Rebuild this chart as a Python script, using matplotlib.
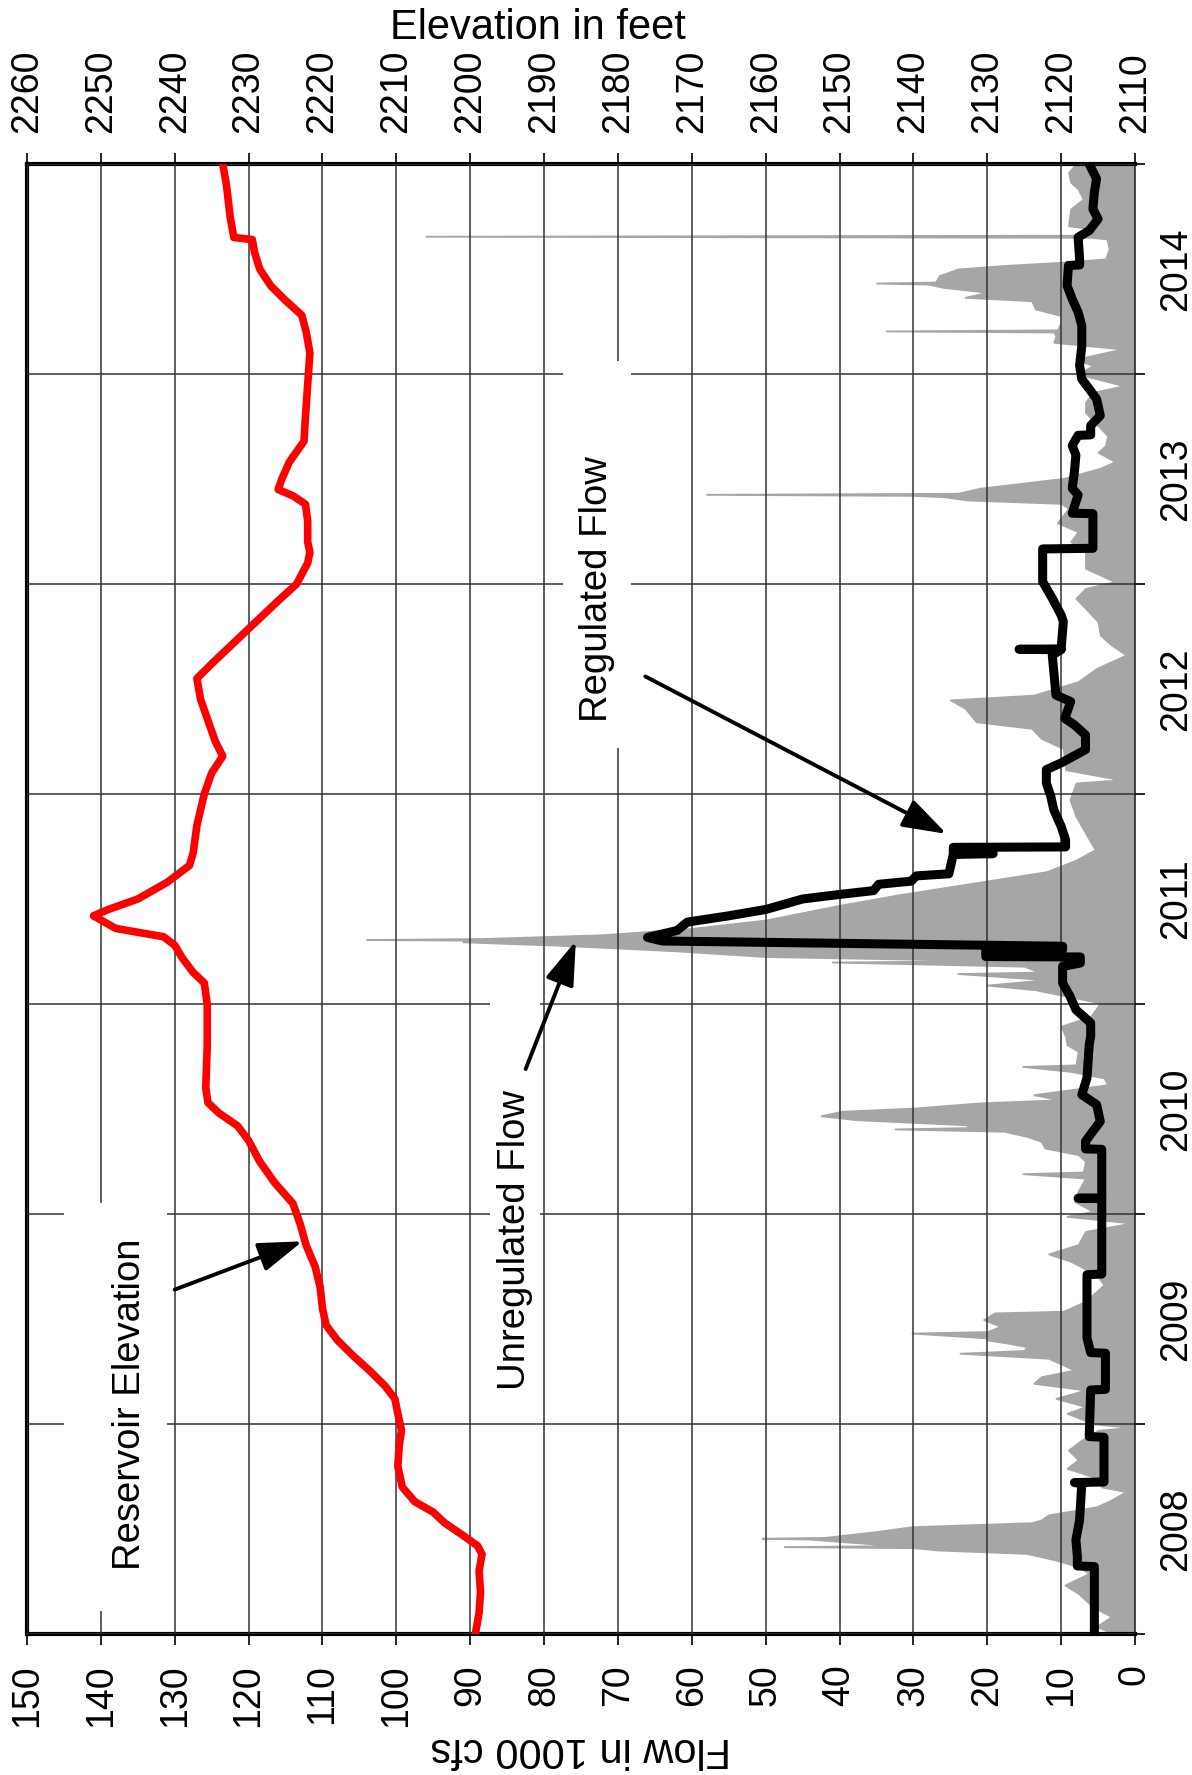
import matplotlib
matplotlib.use('Agg')
import matplotlib.pyplot as plt
from matplotlib.patches import Rectangle

plt.rcParams['font.family'] = ['Liberation Sans', 'DejaVu Sans']

# ---------------- data ----------------
unreg_t = [2008.000, 2008.035, 2008.083, 2008.130, 2008.194, 2008.233, 2008.289, 2008.321, 2008.352, 2008.384,
           2008.400, 2008.411, 2008.416, 2008.421, 2008.440, 2008.452, 2008.456, 2008.460, 2008.487, 2008.511,
           2008.530, 2008.543, 2008.567, 2008.606, 2008.638, 2008.678, 2008.700, 2008.749, 2008.789, 2008.829,
           2008.876, 2008.924, 2008.970, 2008.984, 2009.000, 2009.051, 2009.083, 2009.122, 2009.162, 2009.194,
           2009.225, 2009.257, 2009.289, 2009.313, 2009.337, 2009.350, 2009.368, 2009.384, 2009.400, 2009.410,
           2009.433, 2009.440, 2009.465, 2009.497, 2009.529, 2009.537, 2009.584, 2009.663, 2009.711, 2009.775,
           2009.810, 2009.854, 2009.917, 2009.957, 2009.989, 2010.013, 2010.060, 2010.108, 2010.171, 2010.192,
           2010.200, 2010.251, 2010.283, 2010.314, 2010.346, 2010.370, 2010.394, 2010.405, 2010.412, 2010.425,
           2010.449, 2010.468, 2010.489, 2010.505, 2010.529, 2010.544, 2010.568, 2010.616, 2010.648, 2010.679,
           2010.703, 2010.710, 2010.775, 2010.806, 2010.846, 2010.894, 2010.941, 2011.005, 2011.068, 2011.090,
           2011.116, 2011.145, 2011.152, 2011.180, 2011.200, 2011.206, 2011.226, 2011.253, 2011.280, 2011.296,
           2011.302, 2011.307, 2011.312, 2011.330, 2011.360, 2011.400, 2011.470, 2011.520, 2011.575, 2011.630,
           2011.685, 2011.735, 2011.814, 2011.894, 2011.973,
           2012.052, 2012.068, 2012.116, 2012.217, 2012.265, 2012.313, 2012.344, 2012.408, 2012.448, 2012.471,
           2012.503, 2012.535, 2012.598, 2012.662, 2012.710, 2012.757, 2012.821, 2012.884, 2012.932, 2012.979,
           2013.011, 2013.075, 2013.154, 2013.202, 2013.249, 2013.292, 2013.360, 2013.384, 2013.400, 2013.416,
           2013.422, 2013.427, 2013.432, 2013.456, 2013.503, 2013.551, 2013.583, 2013.627, 2013.659, 2013.706,
           2013.754, 2013.817, 2013.865, 2013.913, 2013.944, 2014.000, 2014.040, 2014.071, 2014.119, 2014.151,
           2014.183, 2014.200, 2014.205, 2014.210, 2014.246, 2014.278, 2014.310, 2014.349, 2014.365, 2014.389,
           2014.413, 2014.428, 2014.433, 2014.438, 2014.468, 2014.500, 2014.516, 2014.532, 2014.548, 2014.595,
           2014.643, 2014.651, 2014.656, 2014.661, 2014.690, 2014.706, 2014.786, 2014.833, 2014.881, 2014.913,
           2014.960, 2015.000]
unreg_q = [2.7, 5.2, 3.2, 5.7, 7.7, 9.5, 6.2, 7.7, 10.7, 14.7,
           26.7, 30.0, 47.5, 32.0, 39.7, 44.0, 50.5, 42.0, 35.2, 30.2,
           14.0, 12.7, 11.7, 5.2, 3.2, 1.2, 4.5, 5.7, 9.2, 7.7,
           9.0, 7.2, 5.0, 0.5, 5.5, 9.2, 6.7, 10.7, 6.7, 13.7,
           12.7, 8.2, 10.2, 11.7, 23.7, 15.0, 14.7, 17.0, 20.0, 20.0,
           30.2, 20.0, 18.2, 20.5, 19.0, 9.7, 6.7, 4.2, 5.2, 8.7,
           11.7, 7.7, 6.7, 0.5, 9.2, 5.7, 8.2, 7.7, 6.7, 15.2,
           7.0, 6.7, 7.7, 12.2, 12.7, 14.7, 17.7, 32.5, 22.0, 23.0,
           37.7, 42.5, 39.7, 29.7, 21.0, 10.2, 13.7, 3.7, 4.2, 8.7,
           15.2, 8.0, 7.7, 9.2, 9.4, 10.0, 6.0, 4.7, 13.5, 20.0,
           12.0, 24.0, 13.0, 15.0, 41.0, 18.0, 50.0, 62.0, 78.0, 91.0,
           80.0, 104.0, 88.0, 72.0, 60.0, 50.0, 40.0, 32.0, 22.0, 12.0,
           8.0, 5.4, 6.7, 8.0, 8.8,
           8.0, 2.0, 9.4, 9.7, 12.7, 14.0, 21.5, 23.0, 25.0, 13.7,
           10.7, 7.7, 5.2, 1.2, 3.2, 4.7, 5.0, 6.7, 8.0, 6.7,
           2.7, 6.7, 6.7, 8.7, 7.7, 10.5, 9.0, 10.0, 22.7, 26.0,
           30.0, 58.0, 24.0, 21.0, 9.7, 4.7, 2.7, 5.0, 4.0, 3.7,
           5.0, 6.7, 6.7, 5.7, 1.5, 7.7, 5.7, 8.0, 1.7, 11.0,
           10.7, 11.0, 33.7, 10.5, 10.0, 10.0, 13.5, 14.0, 23.0, 20.0,
           26.0, 28.0, 35.0, 27.0, 26.5, 24.0, 18.0, 10.0, 4.0, 3.5,
           3.8, 6.0, 96.0, 6.0, 5.7, 9.0, 8.7, 7.0, 7.7, 8.7,
           9.0, 8.0]

reg_t = [2008.000, 2008.321, 2008.324, 2008.368, 2008.448, 2008.543, 2008.717, 2008.721, 2008.724, 2008.937,
         2008.940, 2009.162, 2009.165, 2009.337, 2009.340, 2009.410, 2009.711, 2009.714, 2010.073, 2010.075,
         2010.077, 2010.308, 2010.310, 2010.346, 2010.394, 2010.441, 2010.521, 2010.568, 2010.648, 2010.806,
         2010.846, 2010.910, 2010.973, 2011.037, 2011.100, 2011.179, 2011.195, 2011.224, 2011.226, 2011.258,
         2011.260, 2011.275, 2011.300, 2011.317, 2011.350, 2011.390, 2011.420, 2011.450, 2011.480, 2011.500,
         2011.520, 2011.540, 2011.570, 2011.585, 2011.610, 2011.620, 2011.712, 2011.716, 2011.719,
         2011.746, 2011.748, 2011.783, 2011.846, 2011.925, 2011.989, 2012.052, 2012.116, 2012.148, 2012.211,
         2012.281, 2012.329, 2012.360, 2012.440, 2012.471, 2012.662, 2012.687, 2012.689, 2012.691, 2012.821,
         2012.852, 2012.932, 2013.011, 2013.167, 2013.170, 2013.335, 2013.337, 2013.424, 2013.456, 2013.535,
         2013.614, 2013.659, 2013.708, 2013.710, 2013.754, 2013.802, 2013.881, 2013.929, 2013.976, 2014.040,
         2014.135, 2014.230, 2014.294, 2014.357, 2014.421, 2014.517, 2014.519, 2014.548, 2014.651, 2014.683,
         2014.706, 2014.738, 2014.786, 2014.865, 2014.929, 2015.000]
reg_q = [5.5, 5.5, 7.8, 7.8, 8.0, 7.5, 7.2, 8.2, 4.2, 4.2,
         6.2, 6.0, 4.0, 4.0, 6.0, 6.5, 6.5, 4.5, 4.5, 7.7,
         4.5, 4.5, 6.7, 6.7, 5.7, 4.7, 5.2, 7.2, 6.5, 6.2,
         6.0, 6.0, 8.0, 8.8, 9.8, 9.8, 7.4, 7.4, 20.2, 20.2,
         9.8, 9.8, 64.0, 66.0, 62.0, 60.6, 55.0, 50.0, 47.0, 45.0,
         40.4, 35.4, 34.7, 30.3, 29.6, 25.2, 24.6, 19.2, 24.6,
         24.6, 9.4, 9.4, 10.0, 11.0, 11.4, 12.0, 12.0, 10.0, 6.7,
         6.7, 8.2, 9.5, 8.7, 10.7, 11.2, 10.0, 15.7, 10.0, 9.7,
         10.0, 11.2, 12.5, 12.5, 5.7, 5.7, 8.5, 7.7, 8.5, 8.2,
         8.0, 8.5, 7.7, 6.0, 6.0, 4.7, 5.2, 6.2, 7.2, 7.5,
         7.2, 7.2, 7.7, 8.5, 9.2, 9.0, 7.5, 7.5, 7.7, 6.2,
         5.7, 5.0, 5.7, 5.5, 5.2, 6.2]

elev_t = [2008.00, 2008.10, 2008.20, 2008.30, 2008.38, 2008.42, 2008.47, 2008.53, 2008.58, 2008.63,
          2008.70, 2008.80, 2008.90, 2008.97, 2009.05, 2009.12, 2009.18, 2009.25, 2009.33, 2009.40,
          2009.47, 2009.55, 2009.65, 2009.75, 2009.85, 2009.95, 2010.05, 2010.15, 2010.25, 2010.35,
          2010.42, 2010.48, 2010.53, 2010.60, 2010.80, 2011.00, 2011.10, 2011.15, 2011.22, 2011.28,
          2011.32, 2011.36, 2011.42, 2011.45, 2011.50, 2011.58, 2011.66, 2011.72, 2011.85, 2012.00,
          2012.10, 2012.18, 2012.25, 2012.35, 2012.45, 2012.55, 2012.62, 2012.72, 2012.82, 2012.92,
          2013.00, 2013.10, 2013.15, 2013.20, 2013.30, 2013.38, 2013.42, 2013.45, 2013.50, 2013.58,
          2013.68, 2013.80, 2013.95, 2014.10, 2014.20, 2014.28, 2014.35, 2014.42, 2014.50, 2014.58,
          2014.64, 2014.65, 2014.75, 2014.90, 2015.00]
elev_ft = [2199.3, 2198.8, 2198.6, 2198.8, 2198.4, 2199.0, 2201.0, 2203.5, 2205.0, 2207.5,
           2209.2, 2209.8, 2209.6, 2209.3, 2209.8, 2210.2, 2211.5, 2213.5, 2216.0, 2218.0,
           2219.5, 2220.0, 2220.3, 2221.0, 2222.2, 2223.0, 2224.0, 2226.5, 2228.5, 2230.0,
           2231.5, 2234.0, 2235.5, 2235.8, 2235.6, 2235.6, 2236.0, 2237.5, 2239.0, 2240.0,
           2241.5, 2248.0, 2251.0, 2249.0, 2245.0, 2241.0, 2238.0, 2237.5, 2237.0, 2236.0,
           2235.0, 2233.5, 2234.5, 2235.5, 2236.5, 2237.0, 2235.0, 2232.0, 2229.0, 2226.0,
           2223.5, 2222.0, 2221.7, 2222.0, 2222.0, 2222.3, 2224.0, 2226.0, 2225.5, 2224.5,
           2222.5, 2222.3, 2222.0, 2221.7, 2222.2, 2222.8, 2225.0, 2227.0, 2228.5, 2229.2,
           2229.5, 2232.0, 2232.5, 2233.0, 2233.5]

year_labels = ['2008', '2009', '2010', '2011', '2012', '2013', '2014']
flow_ticks = list(range(0, 151, 10))
elev_ticks = list(range(2110, 2261, 10))

# ---------------- figure ----------------
W, H = 1192, 1775
fig = plt.figure(figsize=(W / 100, H / 100), dpi=100)
L, R, T, B = 27, 1135, 164, 1634
ax = fig.add_axes([L / W, 1 - B / H, (R - L) / W, (B - T) / H])
ax.set_xlim(150, 0)
ax.set_ylim(2008, 2015)
ax.set_axisbelow(False)

ax.fill_betweenx(unreg_t, 0, unreg_q, facecolor='#a6a6a6', edgecolor='#a6a6a6',
                 lw=1.3, zorder=2)
ax.plot(reg_q, reg_t, color='black', lw=6.5, solid_joinstyle='round',
        solid_capstyle='round', zorder=4)

ax.set_xticks(flow_ticks)
ax.set_xticklabels([str(v) for v in flow_ticks], rotation=90, fontsize=27)
ax.tick_params(axis='x', direction='out', length=8, width=1.2, pad=14)
ax.set_yticks(list(range(2008, 2016)))
ax.set_yticklabels([])
ax.set_yticks([y + 0.5 for y in range(2008, 2015)], minor=True)
ax.set_yticklabels(year_labels, minor=True, rotation=90, fontsize=27, va='center')
ax.yaxis.tick_right()
ax.tick_params(axis='y', which='major', direction='out', length=7, width=1.2)
ax.tick_params(axis='y', which='minor', length=0, pad=17)
ax.grid(True, which='major', color='#333333', lw=1.1)

for s in ['top', 'left', 'bottom']:
    ax.spines[s].set_linewidth(3)
ax.spines['right'].set_linewidth(1.3)
ax.spines['right'].set_color('#444444')

# white text boxes
for (x0, x1, y0, y1) in [(77.4, 68.2, 2012.22, 2014.06),
                         (145.0, 131.0, 2008.11, 2010.05),
                         (87.3, 80.6, 2009.01, 2011.01)]:
    ax.add_patch(Rectangle((x1, y0), x0 - x1, y1 - y0, facecolor='white',
                           edgecolor='none', zorder=3))

ax2 = ax.twiny()
ax2.set_xlim(2260, 2110)
ax2.plot(elev_ft, elev_t, color='#ff0000', lw=5.5, solid_joinstyle='round', zorder=5)
ax2.set_xticks(elev_ticks)
ax2.set_xticklabels([str(v) for v in elev_ticks], rotation=90, fontsize=27)
ax2.tick_params(axis='x', direction='out', length=8, width=1.2, pad=14)
for s in ax2.spines.values():
    s.set_visible(False)

# annotations
txt_kw = dict(rotation=90, ha='center', va='center', fontsize=27.5, zorder=6)
ax.text(136.1, 2009.095, 'Reservoir Elevation', **txt_kw)
ax.text(84.0, 2009.876, 'Unregulated Flow', **txt_kw)
ax.text(72.9, 2012.976, 'Regulated Flow', **txt_kw)
arr = dict(arrowstyle='-|>,head_length=0.9,head_width=0.3', color='black', lw=2.8,
           shrinkA=0, shrinkB=0, mutation_scale=30)
ax.annotate('', xy=(112.7, 2009.87), xytext=(130.0, 2009.64), arrowprops=arr, zorder=6)
ax.annotate('', xy=(75.7, 2011.30), xytext=(82.5, 2010.69), arrowprops=arr, zorder=6)
ax.annotate('', xy=(25.5, 2011.81), xytext=(66.3, 2012.56), arrowprops=arr, zorder=6)

fig.text(538 / W, 1 - 28 / H, 'Elevation in feet', ha='center', va='center', fontsize=30)
fig.text(581 / W, 1 - 1749 / H, 'Flow in 1000 cfs', rotation=180, ha='center',
         va='center', fontsize=30)

fig.savefig('out.png', dpi=100)
